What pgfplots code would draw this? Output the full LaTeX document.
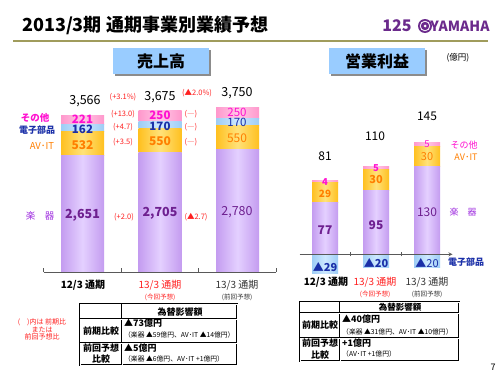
\documentclass[border=0pt]{standalone}
\usepackage{pgfplots}
\pgfplotsset{compat=1.18}
\usepackage{fontspec}
\setmainfont{Noto Sans CJK JP}
\definecolor{purpleD}{HTML}{C49CF0}
\definecolor{purpleL}{HTML}{E4D0FF}
\definecolor{orangeD}{HTML}{FFC020}
\definecolor{orangeL}{HTML}{FFE27A}
\definecolor{blueD}{HTML}{9ECDF5}
\definecolor{blueL}{HTML}{CDE8FF}
\definecolor{pinkD}{HTML}{FF98CC}
\definecolor{pinkL}{HTML}{FFC8E6}
\definecolor{cMag}{HTML}{FF10D0}
\definecolor{cBlue}{HTML}{1A2FA8}
\definecolor{cOrg}{HTML}{FF7F00}
\definecolor{cPur}{HTML}{6E2090}
\definecolor{cPurL}{HTML}{A030E0}
\definecolor{cRed}{HTML}{FF2020}
\definecolor{olivel}{HTML}{A09C5C}
\definecolor{boxblue}{HTML}{99CCFF}
\definecolor{yamaha}{HTML}{6B2A8C}
\newcommand{\fz}[1]{\fontsize{#1bp}{#1bp}\selectfont}
\tikzset{
 pbar/.style={draw=none,left color=purpleD,right color=purpleD,middle color=purpleL},
 obar/.style={draw=none,left color=orangeD,right color=orangeD,middle color=orangeL},
 bbar/.style={draw=none,left color=blueD,right color=blueD,middle color=blueL},
 kbar/.style={draw=none,left color=pinkD,right color=pinkD,middle color=pinkL},
 t/.style={inner sep=0pt,anchor=center},
 tl/.style={draw=black,double=white,double distance=0.6bp,line width=0.7bp},
}
\pgfplotsset{
 salbase/.style={at={(43.75bp,-272bp)},anchor=south west,scale only axis,
   width=232.5bp,height=171.6bp,xmin=-0.5,xmax=2.5,ymin=0,ymax=3900,clip=false},
 sal/.style={salbase,hide axis,ybar stacked,bar width=43bp},
 oprbase/.style={at={(299.5bp,-281.3bp)},anchor=south west,scale only axis,
   width=153bp,height=141.75bp,xmin=-0.5,xmax=2.5,ymin=-40,ymax=170,clip=false},
 opr/.style={oprbase,hide axis,ybar stacked,bar width=26bp},
 oprneg/.style={oprbase,hide axis,ybar,bar width=26bp},
 baseline/.style={hide y axis,axis line style={-,draw=black!65,line width=0.8bp},
   xtick={-0.5,0.5,1.5,2.5},xticklabels={},tick align=inside,major tick length=4bp,
   tick style={draw=black!65,line width=0.8bp}},
}
\begin{document}
\begin{tikzpicture}
\fill[white] (0,0) rectangle (500bp,-375bp);
\path[use as bounding box] (0,0) rectangle (500bp,-375bp);
% ---------- Sales: one axis per bar (so each bar gets its own shading) ----------
\begin{axis}[sal]
\addplot[pbar] coordinates {(0,2651)};
\addplot[obar] coordinates {(0,532)};
\addplot[bbar] coordinates {(0,162)};
\addplot[kbar] coordinates {(0,221)};
\end{axis}
\begin{axis}[sal]
\addplot[pbar] coordinates {(1,2705)};
\addplot[obar] coordinates {(1,550)};
\addplot[bbar] coordinates {(1,170)};
\addplot[kbar] coordinates {(1,250)};
\end{axis}
\begin{axis}[sal]
\addplot[pbar] coordinates {(2,2780)};
\addplot[obar] coordinates {(2,550)};
\addplot[bbar] coordinates {(2,170)};
\addplot[kbar] coordinates {(2,250)};
\end{axis}
\begin{axis}[salbase,baseline,axis x line*=bottom]
\end{axis}
% ---------- Operating profit ----------
\begin{axis}[opr]
\addplot[pbar] coordinates {(0,77)};
\addplot[obar] coordinates {(0,29)};
\addplot[kbar] coordinates {(0,4)};
\end{axis}
\begin{axis}[opr]
\addplot[pbar] coordinates {(1,95)};
\addplot[obar] coordinates {(1,30)};
\addplot[kbar] coordinates {(1,5)};
\end{axis}
\begin{axis}[opr]
\addplot[pbar] coordinates {(2,130)};
\addplot[obar] coordinates {(2,30)};
\addplot[kbar] coordinates {(2,5)};
\end{axis}
\begin{axis}[oprneg]
\addplot[bbar] coordinates {(0,-29)};
\end{axis}
\begin{axis}[oprneg]
\addplot[bbar] coordinates {(1,-20)};
\end{axis}
\begin{axis}[oprneg]
\addplot[bbar] coordinates {(2,-20)};
\end{axis}
\begin{axis}[oprbase,baseline,axis x line=middle]
\end{axis}
\begin{scope}[x=1bp,y=-1bp]
% header
\node[t,anchor=west] at (22,25) {\fz{18}\bfseries 2013/3期 通期事業別業績予想};
\draw[olivel,line width=1.6bp] (13,41)--(488,41);
\node[t,text=yamaha] at (397,26) {\fz{16}\bfseries 125};
\fill[yamaha] (425,26) circle (7);
\draw[white,line width=0.8bp] (425,26) circle (4.8);
\fill[white] (425,26) circle (1.5);
\node[t,text=yamaha] at (460,26) {\fz{14}\bfseries YAMAHA};
% title boxes
\fill[black!45] (115,50) rectangle (211,76);
\fill[boxblue] (113,48) rectangle (209,74);
\node[t] at (161,61) {\fz{16}\bfseries 売上高};
\fill[black!45] (331,50) rectangle (427,76);
\fill[boxblue] (329,48) rectangle (425,74);
\node[t] at (377,61) {\fz{16}\bfseries 営業利益};
\node[t] at (458,58) {\fz{8.5}(億円)};
% ---- sales texts ----
\node[t] at (85,101) {\fz{12.5}3,566};
\node[t] at (160,97) {\fz{12.5}3,675};
\node[t] at (237,93) {\fz{12.5}3,750};
\node[t,text=cMag] at (82.5,119) {\fz{11.5}\bfseries 221};
\node[t,text=cBlue] at (82.5,129.5) {\fz{11.5}\bfseries 162};
\node[t,text=cOrg] at (82.5,145.5) {\fz{12}\bfseries 532};
\node[t,text=cPur] at (82.5,215) {\fz{12.5}\bfseries 2,651};
\node[t,text=cMag] at (160,115.5) {\fz{11.5}\bfseries 250};
\node[t,text=cBlue] at (160,126) {\fz{11.5}\bfseries 170};
\node[t,text=cOrg] at (160,141) {\fz{12}\bfseries 550};
\node[t,text=cPur] at (160,213.5) {\fz{12.5}\bfseries 2,705};
\node[t,text=cMag] at (237,112.5) {\fz{11.5}250};
\node[t,text=cBlue] at (237,122.5) {\fz{11.5}170};
\node[t,text=cOrg] at (237,138.5) {\fz{12}550};
\node[t,text=cPur] at (237,212.5) {\fz{12.5}2,780};
\node[t,text=cMag] at (35,118) {\fz{9.5}\bfseries その他};
\node[t,text=cBlue] at (37,130) {\fz{9}\bfseries 電子部品};
\node[t,text=cOrg] at (42,146) {\fz{9.5}AV･IT};
\node[t,text=cPurL] at (40,216) {\fz{9.5}楽　器};
\node[t,text=cRed] at (123,97) {\fz{7.5}(+3.1\%)};
\node[t,text=cRed] at (123,114) {\fz{7.5}(+13.0)};
\node[t,text=cRed] at (123,127) {\fz{7.5}(+4.7)};
\node[t,text=cRed] at (123,142) {\fz{7.5}(+3.5)};
\node[t,text=cRed] at (124,217) {\fz{7.5}(+2.0)};
\node[t,text=cRed] at (197,93) {\fz{7.5}(▲2.0\%)};
\node[t,text=cRed] at (191,114) {\fz{7.5}(―)};
\node[t,text=cRed] at (191,127) {\fz{7.5}(―)};
\node[t,text=cRed] at (191,142) {\fz{7.5}(―)};
\node[t,text=cRed] at (196,217) {\fz{7.5}(▲2.7)};
\node[t] at (83,285) {\fz{10}\bfseries 12/3 通期};
\node[t,text=cRed] at (160,285) {\fz{10}13/3 通期};
\node[t,text=cRed] at (160,297) {\fz{6.5}(今回予想)};
\node[t,text=black!80] at (237,285) {\fz{10}13/3 通期};
\node[t,text=black!80] at (237,297) {\fz{6.5}(前回予想)};
% ---- profit texts ----
\node[t] at (325,156) {\fz{12}81};
\node[t] at (375,136) {\fz{12}110};
\node[t] at (427,116) {\fz{12}145};
\node[t,text=cMag] at (325,182) {\fz{9.5}\bfseries 4};
\node[t,text=cOrg] at (325,193.5) {\fz{10}\bfseries 29};
\node[t,text=cPur] at (325,230) {\fz{12}\bfseries 77};
\node[t,text=cBlue] at (325,267) {\fz{11}\bfseries ▲29};
\node[t,text=cMag] at (376,168) {\fz{9.5}\bfseries 5};
\node[t,text=cOrg] at (376,180) {\fz{11}\bfseries 30};
\node[t,text=cPur] at (376,225) {\fz{12}\bfseries 95};
\node[t,text=cBlue] at (376,263) {\fz{11}\bfseries ▲20};
\node[t,text=cMag] at (427,144.5) {\fz{9.5}5};
\node[t,text=cOrg] at (427,157) {\fz{11}30};
\node[t,text=cPur] at (427,212) {\fz{12}130};
\node[t,text=cBlue] at (427,263) {\fz{11}▲20};
\node[t,text=cMag] at (464,145) {\fz{9}その他};
\node[t,text=cOrg] at (466,157) {\fz{9}AV･IT};
\node[t,text=cPurL] at (463,212) {\fz{9}楽　器};
\node[t,text=cBlue] at (466,262) {\fz{9}\bfseries 電子部品};
\node[t] at (326,282) {\fz{10}\bfseries 12/3 通期};
\node[t,text=cRed] at (375,282) {\fz{10}13/3 通期};
\node[t,text=cRed] at (375,294) {\fz{6.5}(今回予想)};
\node[t,text=black!80] at (427,282) {\fz{10}13/3 通期};
\node[t,text=black!80] at (427,294) {\fz{6.5}(前回予想)};
% ---- note ----
\node[t,text=cRed] at (42,322) {\fz{7}(　)内は 前期比};
\node[t,text=cRed] at (42,329.5) {\fz{7}または};
\node[t,text=cRed] at (42,337) {\fz{7}前回予想比};
% ---- left table ----
\draw[tl] (80,304) rectangle (237,365);
\draw[tl] (122,304)--(122,365);
\draw[tl] (80,319)--(237,319);
\draw[tl] (80,343)--(237,343);
\node[t] at (180,312) {\fz{9}\bfseries 為替影響額};
\node[t] at (101,331) {\fz{9}\bfseries 前期比較};
\node[t,anchor=west] at (124,323.5) {\fz{9}\bfseries ▲73億円};
\node[t,anchor=west] at (124,334.5) {\fz{6.8}（楽器 ▲59億円、AV･IT ▲14億円）};
\node[t] at (101,348) {\fz{9}\bfseries 前回予想};
\node[t] at (101,359) {\fz{9}\bfseries 比較};
\node[t,anchor=west] at (124,348) {\fz{9}\bfseries ▲5億円};
\node[t,anchor=west] at (124,359) {\fz{6.8}（楽器 ▲6億円、AV･IT +1億円）};
% ---- right table ----
\draw[tl] (300,302) rectangle (459,361);
\draw[tl] (340,302)--(340,361);
\draw[tl] (300,313)--(459,313);
\draw[tl] (300,338)--(459,338);
\node[t] at (400,307.5) {\fz{8.5}\bfseries 為替影響額};
\node[t] at (320,325) {\fz{9}\bfseries 前期比較};
\node[t,anchor=west] at (342,319.5) {\fz{9}\bfseries ▲40億円};
\node[t,anchor=west] at (342,332) {\fz{6.8}（楽器 ▲31億円、AV･IT ▲10億円）};
\node[t] at (320,343.5) {\fz{9}\bfseries 前回予想};
\node[t] at (320,355) {\fz{9}\bfseries 比較};
\node[t,anchor=west] at (342,343.5) {\fz{9}\bfseries +1億円};
\node[t,anchor=west] at (342,354) {\fz{6.8}（AV･IT +1億円）};
\node[t] at (493,367) {\fz{9}7};
\end{scope}
\end{tikzpicture}
\end{document}
